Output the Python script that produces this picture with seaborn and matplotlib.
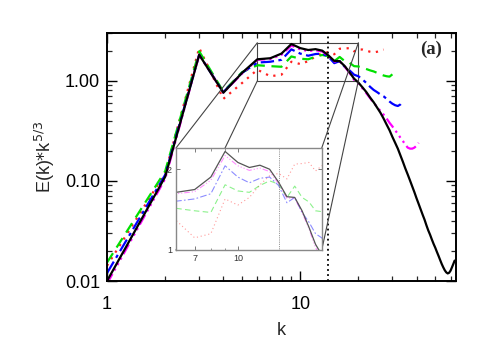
import matplotlib
matplotlib.use("Agg")
import numpy as np
import pandas as pd
import matplotlib.pyplot as plt
import seaborn as sns
from matplotlib.patches import Rectangle, ConnectionPatch
from matplotlib.ticker import FixedLocator, NullFormatter, FixedFormatter, NullLocator

# ---------------- data ----------------
k_black = list(range(1, 64))
e_black = [0.010, 0.11, 1.82, 0.76, 1.20,
           1.64, 1.68, 1.87, 2.33, 2.12, 2.03, 2.07, 2.00, 1.79, 1.58, 1.57, 1.40, 1.215, 1.05, 0.96,
           0.86, 0.77, 0.68, 0.61, 0.54, 0.48, 0.42, 0.365, 0.32, 0.275, 0.24, 0.21, 0.18, 0.155,
           0.133, 0.116, 0.101, 0.088, 0.077, 0.067, 0.059, 0.052, 0.046, 0.041, 0.036, 0.032,
           0.029, 0.026, 0.0235, 0.0215, 0.0195, 0.0178, 0.0162, 0.0148, 0.0137, 0.0128, 0.0122,
           0.0119, 0.0121, 0.0127, 0.0137, 0.0148, 0.0160]

k_magenta = list(range(1, 42))
e_magenta = [0.0094, 0.105, 1.82, 0.76, 1.18,
             1.62, 1.65, 1.82, 2.25, 2.06, 1.98, 2.02, 1.96, 1.77, 1.56, 1.56, 1.38, 1.20, 1.02, 0.94,
             0.84, 0.75, 0.67, 0.60, 0.55, 0.50, 0.46, 0.42, 0.38, 0.35, 0.32, 0.295, 0.27, 0.25,
             0.23, 0.215, 0.21, 0.21, 0.215, 0.225, 0.24]

k_blue = list(range(1, 35))
e_blue = [0.012, 0.115, 1.82, 0.77, 1.20,
          1.52, 1.55, 1.62, 2.06, 1.87, 1.78, 1.85, 1.87, 1.74, 1.50, 1.57, 1.38, 1.27, 1.15, 1.11,
          1.03, 0.95, 0.87, 0.81, 0.77, 0.73, 0.70, 0.66, 0.62, 0.59, 0.57, 0.56, 0.58, 0.62]

k_green = list(range(1, 31))
e_green = [0.0153, 0.125, 1.97, 0.78, 1.22,
           1.43, 1.40, 1.38, 1.75, 1.66, 1.64, 1.74, 1.81, 1.76, 1.57, 1.73, 1.57, 1.51, 1.40, 1.39,
           1.35, 1.31, 1.27, 1.24, 1.20, 1.16, 1.13, 1.11, 1.10, 1.16]

k_red = list(range(1, 28))
e_red = [0.0142, 0.12, 2.13, 0.66, 0.95,
         1.29, 1.11, 1.15, 1.55, 1.47, 1.57, 1.75, 1.89, 1.93, 1.84, 2.09, 2.10, 2.12, 1.97, 2.06,
         2.05, 2.00, 1.95, 1.92, 1.95, 2.00, 2.05]

k_mark = 14
zoom_x = [6, 20]
zoom_y = [1.0, 2.4]

main_yticks = [0.01, 0.1, 1.0]
main_yticklabels = ["0.01", "0.10", "1.00"]
main_xticks = [1, 10]
main_xticklabels = ["1", "10"]
inset_xticks = [7, 10]
inset_xticklabels = ["7", "10"]
inset_yticks = [1, 2]
inset_yticklabels = ["1", "2"]

# ---------------- style ----------------
sns.set_style("ticks")
plt.rcParams['font.family'] = ['Liberation Sans', 'DejaVu Sans']
plt.rcParams['xtick.direction'] = 'in'
plt.rcParams['ytick.direction'] = 'in'
plt.rcParams['xtick.top'] = True
plt.rcParams['ytick.right'] = True

series = [
    (k_red, e_red, "#ff2020", (0, (1, 2.5))),
    (k_green, e_green, "#00e000", (0, (5, 3))),
    (k_blue, e_blue, "#0000ff", (0, (6, 2, 1.5, 2))),
    (k_magenta, e_magenta, "#ff00ff", (0, (5, 1.8, 1, 1.8, 1, 1.8, 1, 1.8))),
    (k_black, e_black, "black", "-"),
]

fig = plt.figure(figsize=(4.88, 3.49), dpi=100)
ax = fig.add_axes([0.2193, 0.1948, 0.7151, 0.7106])
ax.set_zorder(0)

for kk, ee, col, ls in series:
    df = pd.DataFrame({"k": kk, "E": ee})
    sns.lineplot(data=df, x="k", y="E", ax=ax, color=col, linestyle=ls, lw=1.6)

ax.set_xscale("log")
ax.set_yscale("log")
ax.set_xlim(1, 64)
ax.set_ylim(0.01, 3.0)
ax.axvline(k_mark, color="black", linestyle=(0, (1, 1.8)), lw=1.3)

ax.xaxis.set_major_locator(FixedLocator(main_xticks))
ax.xaxis.set_major_formatter(FixedFormatter(main_xticklabels))
ax.xaxis.set_minor_locator(FixedLocator([2, 3, 4, 5, 6, 7, 8, 9, 20, 30, 40, 50, 60]))
ax.xaxis.set_minor_formatter(NullFormatter())
ax.yaxis.set_major_locator(FixedLocator(main_yticks))
ax.yaxis.set_major_formatter(FixedFormatter(main_yticklabels))
ax.yaxis.set_minor_locator(FixedLocator([0.02, 0.03, 0.04, 0.05, 0.06, 0.07, 0.08, 0.09,
                                         0.2, 0.3, 0.4, 0.5, 0.6, 0.7, 0.8, 0.9, 2.0, 3.0]))
ax.yaxis.set_minor_formatter(NullFormatter())
ax.tick_params(which="major", length=7, width=1.0, labelsize=13, colors="black")
ax.tick_params(axis="x", which="major", pad=11)
ax.tick_params(axis="y", which="major", pad=5)
ax.tick_params(which="minor", length=3.5, width=0.9)
for s in ax.spines.values():
    s.set_linewidth(1.4)
    s.set_color("black")

ax.set_xlabel("k", fontsize=13, labelpad=6)
ax.set_ylabel(r"E(k)$*$k$^{5/3}$", fontsize=13, labelpad=6)
ax.text(0.928, 0.935, "(a)", transform=ax.transAxes, ha="center", va="center",
        fontsize=13.5, fontweight="bold", family=["Liberation Serif", "DejaVu Serif"])

# zoom rectangle
ax.add_patch(Rectangle((zoom_x[0], zoom_y[0]), zoom_x[1] - zoom_x[0], zoom_y[1] - zoom_y[0],
                       fill=False, edgecolor="#444444", lw=0.8, zorder=1))

# ---------------- inset ----------------
axins = fig.add_axes([0.3607, 0.2837, 0.2986, 0.2923])
axins.set_zorder(3)
axins.set_facecolor("white")
for kk, ee, col, ls in series:
    df = pd.DataFrame({"k": kk, "E": ee})
    if col == "black":
        sns.lineplot(data=df, x="k", y="E", ax=axins, color="#555555", linestyle=ls, lw=0.9)
    else:
        sns.lineplot(data=df, x="k", y="E", ax=axins, color=col, linestyle=ls, lw=0.8, alpha=0.45)
axins.set_xscale("log")
axins.set_yscale("log")
axins.set_xlim(*zoom_x)
axins.set_ylim(*zoom_y)
axins.axvline(k_mark, color="#777777", linestyle=(0, (1, 1.2)), lw=0.6)
axins.set_xlabel("")
axins.set_ylabel("")
axins.xaxis.set_major_locator(FixedLocator(inset_xticks))
axins.xaxis.set_major_formatter(FixedFormatter(inset_xticklabels))
axins.xaxis.set_minor_locator(FixedLocator([6, 8, 9, 20]))
axins.xaxis.set_minor_formatter(NullFormatter())
axins.yaxis.set_major_locator(FixedLocator(inset_yticks))
axins.yaxis.set_major_formatter(FixedFormatter(inset_yticklabels))
axins.yaxis.set_minor_locator(NullLocator())
axins.tick_params(which="major", length=3, width=0.6, labelsize=6.5, colors="#666666",
                  labelcolor="#333333", pad=3)
axins.tick_params(which="minor", length=1.8, width=0.5, colors="#666666")
for s in axins.spines.values():
    s.set_linewidth(1.0)
    s.set_color("#888888")

# connecting lines (3D box look)
corners = [((zoom_x[0], zoom_y[1]), (0, 1)), ((zoom_x[0], zoom_y[0]), (0, 0)),
           ((zoom_x[1], zoom_y[1]), (1, 1)), ((zoom_x[1], zoom_y[0]), (1, 0))]
for (xa, xb) in corners:
    cp = ConnectionPatch(xyA=xa, coordsA=ax.transData, xyB=xb, coordsB=axins.transAxes,
                         color="#444444", lw=0.8)
    cp.set_zorder(1)
    fig.add_artist(cp)

fig.savefig("out.png", dpi=100)
